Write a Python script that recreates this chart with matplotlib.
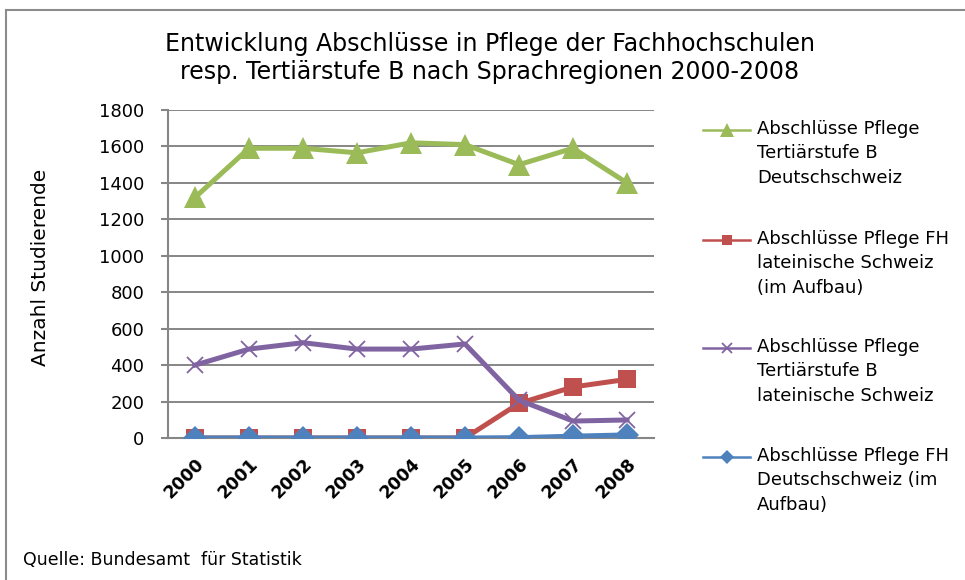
import matplotlib
matplotlib.use("Agg")
import matplotlib.pyplot as plt
from matplotlib.lines import Line2D

years = ["2000", "2001", "2002", "2003", "2004", "2005", "2006", "2007", "2008"]

tertiaer_b_deutsch = [1320, 1590, 1590, 1565, 1620, 1610, 1500, 1590, 1400]
fh_latein = [0, 0, 0, 0, 0, 0, 190, 280, 322]
tertiaer_b_latein = [400, 488, 523, 488, 488, 516, 208, 93, 99]
fh_deutsch = [0, 0, 0, 0, 0, 0, 2, 10, 17]

labels = [
    "Abschlüsse Pflege\nTertiärstufe B\nDeutschschweiz",
    "Abschlüsse Pflege FH\nlateinische Schweiz\n(im Aufbau)",
    "Abschlüsse Pflege\nTertiärstufe B\nlateinische Schweiz",
    "Abschlüsse Pflege FH\nDeutschschweiz (im\nAufbau)",
]
title = ("Entwicklung Abschlüsse in Pflege der Fachhochschulen\n"
         "resp. Tertiärstufe B nach Sprachregionen 2000-2008")
source = "Quelle: Bundesamt  für Statistik"

GREEN, RED, PURPLE, BLUE = "#9BBB59", "#C0504D", "#8064A2", "#4F81BD"
GRID = "#868686"

plt.rcParams["font.family"] = ["DejaVu Sans"]

W, H = 965, 580
fig = plt.figure(figsize=(W / 100, H / 100), dpi=100)
ax = fig.add_axes([168 / W, 1 - 438 / H, (654 - 168) / W, (438 - 110) / H])

x = list(range(len(years)))
styles = [
    (tertiaer_b_deutsch, GREEN, dict(marker="^", markersize=16, mew=0)),
    (fh_latein, RED, dict(marker="s", markersize=13, mew=0)),
    (tertiaer_b_latein, PURPLE, dict(marker="x", markersize=12, mew=1.3)),
    (fh_deutsch, BLUE, dict(marker="D", markersize=12, mew=0)),
]
for vals, col, mk in styles:
    ax.plot(x, vals, color=col, lw=3.6, solid_joinstyle="round", zorder=3, **mk)

ax.set_xlim(-0.5, len(years) - 0.5)
ax.set_ylim(0, 1800)
ax.set_yticks(range(0, 1801, 200))
ax.set_xticks(x)
ax.set_xticklabels(years, rotation=45, ha="right", va="top",
                   rotation_mode="anchor", fontsize=12.5, fontweight="bold")
ax.tick_params(axis="x", length=0, pad=12)
ax.tick_params(axis="y", length=5, width=1.5, color=GRID, labelsize=13, pad=12)
ax.yaxis.grid(True, color=GRID, lw=1.4)
ax.set_axisbelow(True)
for s in ("top", "right"):
    ax.spines[s].set_visible(False)
for s in ("left", "bottom"):
    ax.spines[s].set_color(GRID)
    ax.spines[s].set_linewidth(1.5)
ax.set_ylabel("Anzahl Studierende", fontsize=14.5)
ax.yaxis.set_label_coords((50 - 168) / (654 - 168), 0.52)

fig.text(490 / W, 1 - 58 / H, title, ha="center", va="center",
         fontsize=17, linespacing=1.2)

# legend drawn by hand so the marker sits on the first line of each label
leg_y = [130, 240, 348, 457]
for (vals, col, mk), lab, ly in zip(styles, labels, leg_y):
    yf = 1 - ly / H
    fig.add_artist(Line2D([703 / W, 750 / W], [yf, yf], color=col, lw=1.8))
    mk2 = dict(mk)
    mk2["markersize"] = mk["markersize"] * 0.6
    fig.add_artist(Line2D([726.5 / W], [yf], color=col, **mk2))
    fig.text(757 / W, 1 - (ly - 10) / H, lab, ha="left", va="top",
             fontsize=13, linespacing=1.45)

fig.text(23 / W, 1 - 560 / H, source, ha="left", va="center", fontsize=12.5)

# chart frame (top and left edges visible in the picture)
fig.add_artist(Line2D([6 / W, 1], [1 - 10 / H, 1 - 10 / H], color="#8C8C8C", lw=1.5))
fig.add_artist(Line2D([6 / W, 6 / W], [0, 1 - 10 / H], color="#8C8C8C", lw=1.5))

fig.savefig("out.png", dpi=100)
